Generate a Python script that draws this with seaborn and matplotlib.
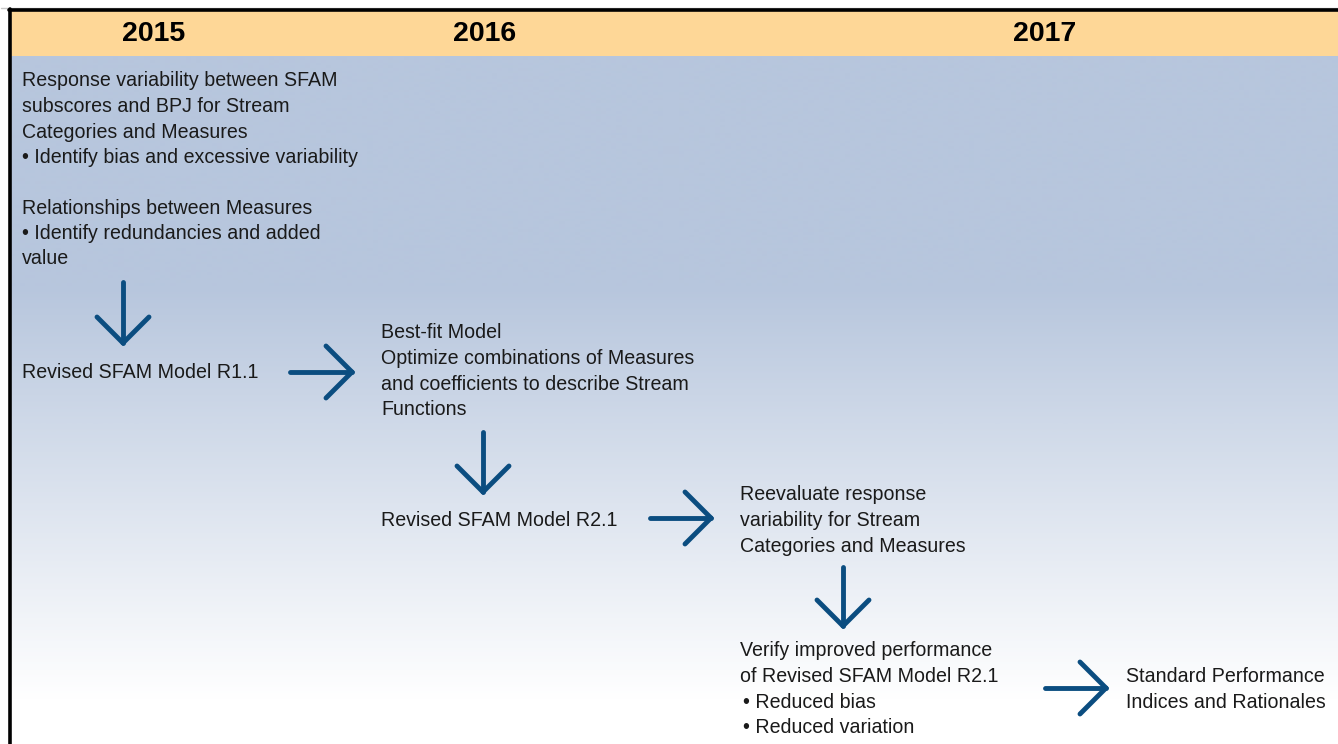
#!/usr/bin/env python3
# SFAM evaluation timeline 2015-2017, drawn as a flow diagram on a gradient panel

import numpy as np
import matplotlib.pyplot as plt
from matplotlib.colors import LinearSegmentedColormap
import seaborn as sns

sns.set_theme(style="white")
plt.rcParams['font.family'] = ['Liberation Sans', 'DejaVu Sans']

# header years
years = ["2015", "2016", "2017"]
year_x = [154, 485, 1045]

# text blocks of the flow
blocks = [
    ["Response variability between SFAM", "subscores and BPJ for Stream",
     "Categories and Measures", "\u2022 Identify bias and excessive variability"],
    ["Relationships between Measures", "\u2022 Identify redundancies and added", "value"],
    ["Revised SFAM Model R1.1"],
    ["Best-fit Model", "Optimize combinations of Measures",
     "and coefficients to describe Stream", "Functions"],
    ["Revised SFAM Model R2.1"],
    ["Reevaluate response", "variability for Stream", "Categories and Measures"],
    ["Verify improved performance", "of Revised SFAM Model R2.1",
     "\u2022 Reduced bias", "\u2022 Reduced variation"],
    ["Standard Performance", "Indices and Rationales"],
]
block_xy = [(22, 81), (22, 208), (22, 373), (381, 333), (381, 521),
            (740, 495), (740, 651), (1126, 677)]
line_step = 25.5
# small indent for the bullet lines of the verify block
indent = {(6, 2): 3, (6, 3): 3}

# arrows: (start, end) of the shaft, head drawn at end
arrows = [((123, 282), (123, 343)), ((290, 372), (352, 372)),
          ((483, 432), (483, 492)), ((650, 518), (711, 518)),
          ((843, 567), (843, 626)), ((1045, 688), (1106, 688))]

HEADER = "#FED797"
BLUE_BG = "#B7C6DD"
ARROW = "#0B4D80"


def drawBackground(ax):
    ys = np.arange(56, 745)
    t = np.clip((ys - 285) / (700 - 285), 0, 1)
    grad = t.reshape(-1, 1)
    cmap = LinearSegmentedColormap.from_list("bg", [BLUE_BG, "#FFFFFF"])
    ax.imshow(grad, cmap=cmap, aspect="auto", extent=[10, 1338, 744, 56],
              vmin=0, vmax=1, interpolation="bilinear", zorder=0)
    ax.fill_between([10, 1338], 10, 56, color=HEADER, lw=0, zorder=1)
    ax.plot([1, 1338], [8, 8], color="#C8C8C8", lw=1, zorder=2)
    ax.plot([9, 1338], [10, 10], color="black", lw=2.6, zorder=3)
    ax.plot([9.5, 9.5], [9, 744], color="black", lw=2.6, zorder=3)


def drawArrow(ax, p0, p1):
    (x0, y0), (x1, y1) = p0, p1
    d = np.array([x1 - x0, y1 - y0], dtype=float)
    d /= np.hypot(*d)
    n = np.array([-d[1], d[0]])
    h = 26
    kw = dict(color=ARROW, lw=3.5, solid_capstyle="round", solid_joinstyle="round", zorder=4)
    ax.plot([x0, x1], [y0, y1], **kw)
    for s in (1, -1):
        bx, by = np.array([x1, y1]) - d * h + n * h * s
        ax.plot([bx, x1], [by, y1], **kw)


def main():
    fig = plt.figure(figsize=(13.38, 7.44), dpi=100)
    ax = fig.add_axes([0, 0, 1, 1])
    ax.set_xlim(0, 1338)
    ax.set_ylim(744, 0)
    ax.axis("off")

    drawBackground(ax)

    for label, x in zip(years, year_x):
        ax.text(x, 34, label, ha="center", va="center", fontsize=20.5,
                fontweight="bold", color="black", zorder=5)

    for b, (lines, (x, y)) in enumerate(zip(blocks, block_xy)):
        for i, line in enumerate(lines):
            ax.text(x + indent.get((b, i), 0), y + i * line_step, line,
                    ha="left", va="center", fontsize=14.1, color="#1a1a1a", zorder=5)

    for p0, p1 in arrows:
        drawArrow(ax, p0, p1)

    fig.savefig("out.png", dpi=100)


if __name__ == "__main__":
    main()
